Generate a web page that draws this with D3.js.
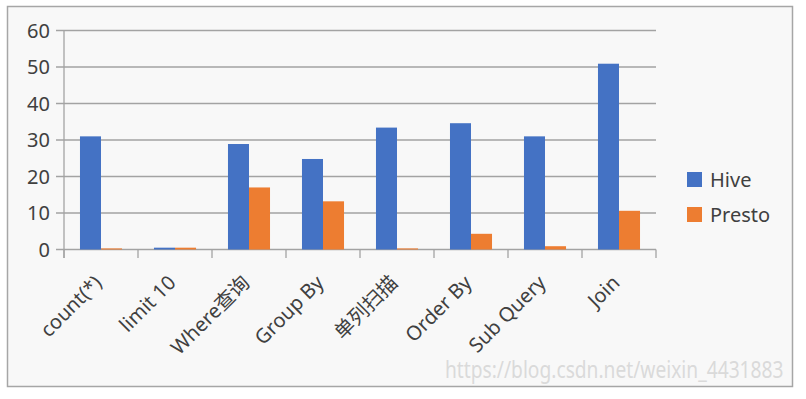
<!DOCTYPE html>
<html><head><meta charset="utf-8">
<script src="https://cdn.jsdelivr.net/npm/d3@7"></script>
<style>
html,body{margin:0;padding:0;background:#fff;}
svg{display:block;}
text{font-family:"Noto Sans","Noto Sans CJK SC",sans-serif;}
</style></head>
<body><svg id="c" width="806" height="399"></svg>
<script>
const categories = ["count(*)", "limit 10", "Where查询", "Group By", "单列扫描", "Order By", "Sub Query", "Join"];
const seriesNames = ["Hive", "Presto"];
const hiveValues = [31.0, 0.5, 28.9, 24.8, 33.4, 34.6, 31.0, 50.9];
const prestoValues = [0.3, 0.5, 17.0, 13.2, 0.3, 4.3, 0.9, 10.6];
const yTicks = [0, 10, 20, 30, 40, 50, 60];
const colors = ["#4472C4", "#ED7D31"];
const watermark = "https://blog.csdn.net/weixin_4431883";

const svg = d3.select("#c");
svg.append("rect").attr("x", 7.5).attr("y", 6.5).attr("width", 785).attr("height", 380)
  .attr("fill", "#f8f8f8").attr("stroke", "#a6a6a6").attr("stroke-width", 1.5);

const x0 = d3.scaleBand().domain(categories).range([64, 656]).padding(0);
const x1 = d3.scaleBand().domain(seriesNames).range([0, x0.bandwidth()]).paddingInner(0).paddingOuter(0.76);
const y = d3.scaleLinear().domain([0, 60]).range([249.5, 30.5]);
const color = d3.scaleOrdinal().domain(seriesNames).range(colors);

const gridColor = "#a3a3a3";
svg.append("g").selectAll("line").data(yTicks).join("line")
  .attr("x1", 56).attr("x2", 656)
  .attr("y1", d => y(d)).attr("y2", d => y(d))
  .attr("stroke", gridColor).attr("stroke-width", 1.3);
svg.append("g").selectAll("text").data(yTicks).join("text")
  .attr("x", 50).attr("y", d => y(d)).attr("dy", "0.36em")
  .attr("text-anchor", "end").attr("font-size", 20).attr("fill", "#404040")
  .text(d => d);
svg.append("line").attr("x1", 64).attr("x2", 64).attr("y1", y(60)).attr("y2", 258)
  .attr("stroke", gridColor).attr("stroke-width", 1.3);
const bounds = categories.map(c => x0(c)).concat([x0(categories[categories.length-1]) + x0.bandwidth()]);
svg.append("g").selectAll("line").data(bounds).join("line")
  .attr("x1", d => d).attr("x2", d => d).attr("y1", y(0)).attr("y2", 258)
  .attr("stroke", gridColor).attr("stroke-width", 1.3);

const rows = categories.map((c, i) => ({cat: c, vals: [hiveValues[i], prestoValues[i]]}));
const g = svg.append("g").selectAll("g").data(rows).join("g")
  .attr("transform", d => `translate(${x0(d.cat)},0)`);
g.selectAll("rect").data(d => d.vals.map((v, j) => ({s: seriesNames[j], v})))
  .join("rect")
  .attr("x", d => x1(d.s)).attr("width", x1.bandwidth())
  .attr("y", d => y(d.v)).attr("height", d => y(0) - y(d.v))
  .attr("fill", d => color(d.s));

svg.append("g").selectAll("text").data(categories).join("text")
  .attr("transform", d => `translate(${x0(d) + x0.bandwidth()/2 + 2},${284}) rotate(-45)`)
  .attr("text-anchor", "end").attr("font-size", 20).attr("fill", "#404040")
  .text(d => d);

const lg = svg.append("g").selectAll("g").data(seriesNames).join("g")
  .attr("transform", (d, i) => `translate(687,${172 + i * 35})`);
lg.append("rect").attr("width", 15).attr("height", 15).attr("fill", d => color(d));
lg.append("text").attr("x", 23).attr("y", 14.5).attr("font-size", 20).attr("fill", "#404040").text(d => d);

const wm = svg.append("text").attr("transform", "translate(445,378) scale(0.8,1)")
  .attr("font-family", "'Liberation Sans',sans-serif")
  .attr("font-size", 24).attr("fill", "#dadada")
  .text(watermark);
</script></body></html>
